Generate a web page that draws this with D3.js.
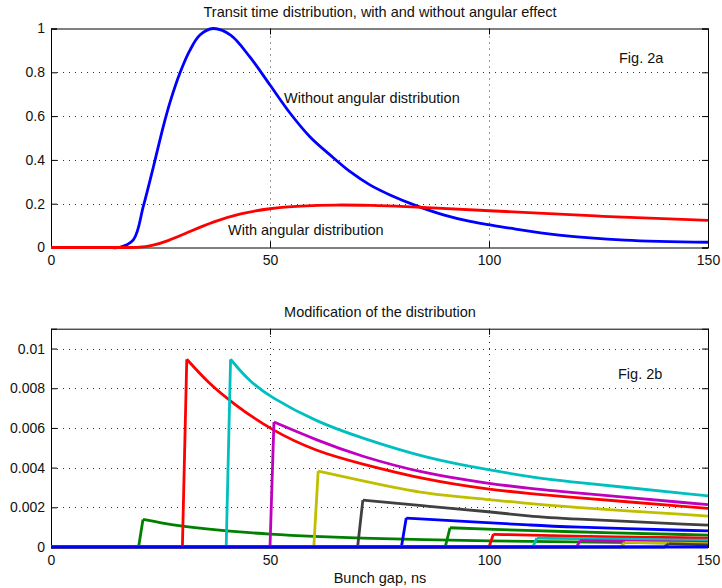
<!DOCTYPE html>
<html>
<head>
<meta charset="utf-8">
<script src="https://cdn.jsdelivr.net/npm/d3@7"></script>
<style>
  body { margin: 0; background: #fff; }
  text { font-family: "Liberation Sans", Arial, sans-serif; }
</style>
</head>
<body>
<div id="chart"></div>
<script>
// Figure size
var svgWidth = 722;
var svgHeight = 588;

// ---- data ----
// Fig 2a: transit time distribution, [ns, normalized value]
var withoutAngular = [[0, 0], [8, 0], [13, 0], [15.5, 0], [18.8, 0.035], [21.1, 0.19], [23.4, 0.37], [25.6, 0.55],
  [27.2, 0.665], [29.5, 0.8], [31.7, 0.9], [34, 0.97], [37, 1.0], [41, 0.97], [45.4, 0.87],
  [50, 0.742], [54.6, 0.613], [59.1, 0.506], [63.7, 0.423], [68.3, 0.346], [72.8, 0.286],
  [77.4, 0.24], [83.5, 0.19], [89.6, 0.149], [95.7, 0.119], [100.2, 0.103], [104.8, 0.088],
  [116, 0.057], [131, 0.034], [150, 0.024]];

var withAngular = [[0, 0], [8, 0], [14, 0], [18, 0], [20, 0], [23, 0.008], [26.4, 0.027], [31.7, 0.073], [37.1, 0.118], [43.2, 0.156],
  [50, 0.179], [56.8, 0.19], [65.2, 0.195], [72, 0.193], [84, 0.185], [100, 0.168],
  [124, 0.143], [150, 0.124]];

// Fig 2b: one curve per bunch gap start (ns)
var gapStarts = [20, 30, 40, 50, 60, 70, 80, 90, 100, 110, 120, 130, 140];
var gapColors = ["#008000", "#ff0000", "#00bfbf", "#bf00bf", "#bfbf00", "#404040", "#0000ff",
  "#008000", "#ff0000", "#00bfbf", "#bf00bf", "#bfbf00", "#404040"];
var gapCurves = [
  [[21, 0.00139], [25, 0.00122], [30, 0.00105], [35, 0.00092], [40, 0.00081], [50, 0.00064], [60, 0.00053], [70.5, 0.00045], [85, 0.00037], [100, 0.00031], [116, 0.00026], [150, 0.00019]],
  [[31, 0.00946], [36, 0.00824], [41.6, 0.00723], [50, 0.00592], [60.7, 0.0048], [70.5, 0.00421], [85.8, 0.00337], [100, 0.0029], [109.4, 0.00269], [116.2, 0.00255], [150, 0.00195]],
  [[41, 0.00946], [45, 0.0084], [50, 0.00756], [60.7, 0.0063], [70.5, 0.00552], [85.8, 0.00446], [100, 0.00388], [109.4, 0.00354], [116.2, 0.00334], [150, 0.00258]],
  [[50.9, 0.0063], [60.7, 0.00538], [70.5, 0.00458], [85.8, 0.00367], [100, 0.0032], [109.4, 0.00295], [116.2, 0.0028], [150, 0.00213]],
  [[61, 0.00382], [70.5, 0.00337], [85.8, 0.00265], [100, 0.0024], [109.4, 0.00218], [116.2, 0.00204], [150, 0.00156]],
  [[71.2, 0.00236], [85.8, 0.00206], [100, 0.00178], [109.4, 0.00155], [116.2, 0.00144], [150, 0.0011]],
  [[81.1, 0.00146], [100, 0.00122], [109.4, 0.00111], [116.2, 0.00102], [150, 0.00081]],
  [[91.1, 0.00097], [100, 0.00089], [116.2, 0.00078], [150, 0.0006]],
  [[101, 0.00064], [116.2, 0.00055], [150, 0.00045]],
  [[110.9, 0.00045], [130, 0.0004], [150, 0.00034]],
  [[120.8, 0.00032], [150, 0.00023]],
  [[131, 0.00023], [150, 0.00017]],
  [[141, 0.00016], [150, 0.00011]]
];
var baseline = [[0, 0], [150, 0]];

// tick labels
var xTicks = [0, 50, 100, 150];
var yTicksTop = [0, 0.2, 0.4, 0.6, 0.8, 1];
var yTicksBottom = [0, 0.002, 0.004, 0.006, 0.008, 0.01];

// ---- layout ----
var svg = d3.select("#chart")
  .append("svg")
  .attr("width", svgWidth)
  .attr("height", svgHeight);

var left = 51, right = 708;

var x = d3.scaleLinear().domain([0, 150]).range([left, right]);
var yTop = d3.scaleLinear().domain([0, 1]).range([247.5, 28.5]);
var yBot = d3.scaleLinear().domain([0, 0.011]).range([547, 328.7]);

function drawFrame(y, yTicks) {
  var g = svg.append("g");
  var y0 = y.range()[0], y1 = y.range()[1];

  // dotted grid
  g.selectAll(".gx").data(xTicks.slice(1, -1)).enter().append("line")
    .attr("x1", d => Math.round(x(d)) + 0.5).attr("x2", d => Math.round(x(d)) + 0.5)
    .attr("y1", y0).attr("y2", y1)
    .attr("stroke", "#333").attr("stroke-dasharray", "1,5");
  g.selectAll(".gy").data(yTicks.filter(d => y(d) > y1 + 2 && d > 0)).enter().append("line")
    .attr("y1", d => Math.round(y(d)) + 0.5).attr("y2", d => Math.round(y(d)) + 0.5)
    .attr("x1", left).attr("x2", right)
    .attr("stroke", "#333").attr("stroke-dasharray", "1,5");

  var fmt = d3.format("~g");
  // axes, ticks pointing inward
  var bottom = g.append("g").attr("transform", `translate(0,${y0})`)
    .call(d3.axisBottom(x).tickValues(xTicks).tickSize(-6).tickPadding(8).tickFormat(fmt));
  var top = g.append("g").attr("transform", `translate(0,${y1})`)
    .call(d3.axisTop(x).tickValues(xTicks).tickSize(-6).tickFormat(""));
  var leftAx = g.append("g").attr("transform", `translate(${left},0)`)
    .call(d3.axisLeft(y).tickValues(yTicks).tickSize(-6).tickPadding(6).tickFormat(fmt));
  var rightAx = g.append("g").attr("transform", `translate(${right},0)`)
    .call(d3.axisRight(y).tickValues(yTicks).tickSize(-6).tickFormat(""));

  [bottom, top, leftAx, rightAx].forEach(function(a) {
    a.select(".domain").attr("stroke", "#000");
    a.selectAll(".tick line").attr("stroke", "#000");
    a.selectAll("text").attr("font-size", 14).attr("fill", "#111")
      .attr("font-family", "'Liberation Sans', Arial, sans-serif");
  });
  return g;
}

// ---- Fig 2a ----
drawFrame(yTop, yTicksTop);

var lineBlue = d3.line()
  .x(d => x(d[0]))
  .y(d => yTop(d[1]))
  .curve(d3.curveCatmullRom.alpha(0.5));
var lineRed = d3.line()
  .x(d => x(d[0]))
  .y(d => yTop(d[1]))
  .curve(d3.curveBasis);

svg.append("path").datum(withoutAngular)
  .attr("d", lineBlue).attr("fill", "none")
  .attr("stroke", "#0000ff").attr("stroke-width", 2.8);
svg.append("path").datum(withAngular)
  .attr("d", lineRed).attr("fill", "none")
  .attr("stroke", "#ff0000").attr("stroke-width", 2.8);

svg.append("text").attr("x", 380).attr("y", 17).attr("text-anchor", "middle")
  .attr("font-size", 14.5).attr("fill", "#111")
  .text("Transit time distribution, with and without angular effect");
svg.append("text").attr("x", 619).attr("y", 62.5).attr("font-size", 14.5).attr("fill", "#111")
  .text("Fig. 2a");
svg.append("text").attr("x", 284).attr("y", 103).attr("font-size", 14.5).attr("fill", "#111")
  .text("Without angular distribution");
svg.append("text").attr("x", 228).attr("y", 235).attr("font-size", 14.5).attr("fill", "#111")
  .text("With angular distribution");

// ---- Fig 2b ----
drawFrame(yBot, yTicksBottom);

var lineStraight = d3.line().x(d => x(d[0])).y(d => yBot(d[1]));
var lineDecay = d3.line().x(d => x(d[0])).y(d => yBot(d[1])).curve(d3.curveBasis);

gapStarts.forEach(function(s, i) {
  var pts = gapCurves[i];
  // zero until the gap, then the jump to the peak
  svg.append("path").datum([[0, 0], [s, 0], pts[0]])
    .attr("d", lineStraight).attr("fill", "none")
    .attr("stroke", gapColors[i]).attr("stroke-width", 2.8).attr("stroke-linejoin", "miter");
  svg.append("path").datum(pts)
    .attr("d", lineDecay).attr("fill", "none")
    .attr("stroke", gapColors[i]).attr("stroke-width", 2.8);
});
svg.append("path").datum(baseline)
  .attr("d", lineStraight).attr("fill", "none")
  .attr("stroke", "#0000ff").attr("stroke-width", 2.8);

svg.append("text").attr("x", 380).attr("y", 317).attr("text-anchor", "middle")
  .attr("font-size", 14.5).attr("fill", "#111")
  .text("Modification of the distribution");
svg.append("text").attr("x", 618).attr("y", 379).attr("font-size", 14.5).attr("fill", "#111")
  .text("Fig. 2b");
svg.append("text").attr("x", 380).attr("y", 583).attr("text-anchor", "middle")
  .attr("font-size", 14.5).attr("fill", "#111")
  .text("Bunch gap, ns");
</script>
</body>
</html>
